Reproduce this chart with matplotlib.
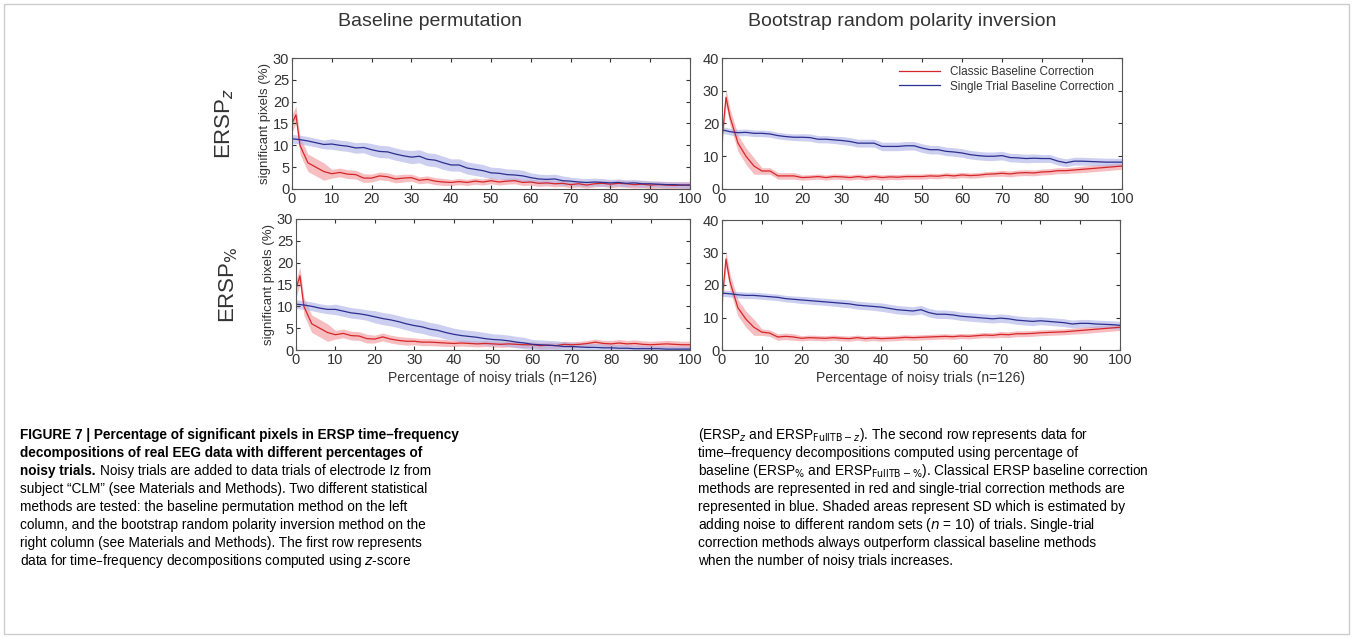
import numpy as np
import matplotlib.pyplot as plt
from matplotlib.patches import Rectangle

plt.rcParams['font.family'] = ['Liberation Sans', 'DejaVu Sans']

# x positions (percentage of noisy trials)
x = [0, 1] + list(range(2, 101, 2))

# baseline permutation, ERSP_z
bp_z_red = [15, 17, 10, 6, 5, 4, 3.5, 3.8, 3.4, 3.3, 2.5, 2.5, 3, 2.8, 2.3, 2.5, 2.6, 2, 2.2, 1.8, 1.6, 1.5,
            1.7, 1.5, 1.8, 1.6, 1.9, 1.6, 1.8, 1.9, 1.5, 1.6, 1.3, 1.4, 1.2, 1.3, 1.0, 1.2, 0.9, 1.2, 1.3, 1.1,
            1.3, 1.2, 1.0, 1.1, 0.9, 1.0, 0.9, 0.8, 0.9, 0.9]
bp_z_blue = [11.5, 11.4, 11.3, 11, 10.6, 10.2, 10.3, 10, 9.8, 9.4, 9.5, 9, 8.6, 8.5, 8.0, 7.6, 7.3, 7.5, 6.8, 6.6,
             6, 5.5, 5.5, 4.8, 4.5, 4.2, 3.7, 3.6, 3.3, 3.2, 3, 2.6, 2.3, 2.2, 2.3, 1.9, 1.8, 1.6, 1.5, 1.6, 1.5,
             1.4, 1.5, 1.3, 1.4, 1.2, 1.2, 1.1, 1.0, 1.0, 0.9, 0.9]
# baseline permutation, ERSP_%
bp_p_red = [14, 17, 10, 6, 5, 4, 3.5, 3.8, 3.3, 3.2, 2.6, 2.5, 3, 2.5, 2.2, 2.0, 2.0, 1.8, 1.8, 1.7, 1.6, 1.5,
            1.6, 1.5, 1.4, 1.5, 1.4, 1.3, 1.4, 1.3, 1.2, 1.2, 1.0, 1.1, 1.0, 1.3, 1.2, 1.3, 1.5, 1.8, 1.5, 1.4,
            1.6, 1.4, 1.5, 1.3, 1.2, 1.3, 1.4, 1.3, 1.2, 1.2]
bp_p_blue = [10.5, 10.4, 10.3, 10, 9.6, 9.3, 9.3, 8.9, 8.5, 8.3, 8.0, 7.6, 7.2, 6.9, 6.5, 6.0, 5.6, 5.3, 4.8, 4.5,
             4, 3.6, 3.3, 3.1, 2.9, 2.6, 2.4, 2.3, 2.1, 1.8, 1.6, 1.3, 1.2, 1.1, 1.0, 0.8, 0.8, 0.7, 0.6, 0.6, 0.5,
             0.5, 0.4, 0.4, 0.3, 0.3, 0.3, 0.3, 0.2, 0.2, 0.2, 0.2]
# bootstrap, ERSP_z
bs_z_red = [15, 28, 22, 14, 10, 7, 5.5, 5.5, 4, 4, 4, 3.5, 3.6, 3.8, 3.5, 3.8, 3.7, 3.5, 3.8, 3.5, 3.8, 3.5,
            3.7, 3.6, 3.8, 3.8, 3.8, 4, 3.9, 4.2, 4, 4.3, 4.1, 4.2, 4.5, 4.6, 4.8, 4.6, 4.9, 5, 4.9, 5.2, 5.3,
            5.6, 5.6, 5.8, 6, 6.2, 6.4, 6.6, 6.8, 7]
bs_z_blue = [18, 17.8, 17.5, 17.2, 17.3, 17, 17, 16.8, 16.3, 16, 15.8, 15.8, 15.7, 15.2, 15.2, 15, 14.8, 14.5, 14,
             14, 14, 13, 13, 13, 13.2, 13.2, 12.5, 12, 12, 11.5, 11.3, 11, 10.5, 10.2, 10, 10, 10.2, 9.6, 9.5,
             9.3, 9.4, 9.3, 9.3, 8.5, 8, 8.5, 8.5, 8.4, 8.3, 8.2, 8.2, 8.2]
# bootstrap, ERSP_%
bs_p_red = [15, 28, 21, 13, 9.5, 7, 5.5, 5.2, 4, 4.2, 4, 3.6, 3.8, 3.7, 3.6, 3.8, 3.6, 3.5, 3.8, 3.5, 3.7, 3.5,
            3.6, 3.7, 3.9, 3.8, 3.9, 4, 4.1, 4.2, 4.1, 4.3, 4.2, 4.4, 4.6, 4.5, 4.8, 4.7, 5, 5, 5.1, 5.3, 5.4,
            5.5, 5.6, 5.8, 6, 6.2, 6.4, 6.6, 6.8, 7]
bs_p_blue = [17.5, 17.4, 17.3, 17, 16.8, 16.8, 16.6, 16.4, 16.2, 15.8, 15.6, 15.4, 15.2, 15, 14.8, 14.6, 14.4,
             14.2, 13.8, 13.6, 13.4, 13.2, 12.8, 12.4, 12.2, 12, 12.4, 11.5, 11, 11, 10.8, 10.4, 10.2, 10, 9.8,
             9.6, 9.8, 9.6, 9.2, 9, 8.8, 9, 8.8, 8.6, 8.4, 8, 8.2, 8.2, 8.0, 7.9, 7.8, 7.6]

# SD per decade bin (0-10, 10-20, ..., 90-100, 100)
sd_red_bp = [2.0, 1.0, 0.9, 0.8, 0.7, 0.7, 0.7, 0.7, 0.8, 0.8, 0.8]
sd_blue_bp = [1.0, 1.2, 1.4, 1.5, 1.4, 1.3, 1.1, 0.9, 0.8, 0.7, 0.7]
sd_red_bs = [2.5, 1.0, 0.8, 0.8, 0.8, 0.8, 0.8, 0.9, 0.9, 1.0, 1.0]
sd_blue_bs = [1.0, 1.0, 1.1, 1.2, 1.3, 1.3, 1.3, 1.3, 1.2, 1.2, 1.2]

RED = '#d62728'
RED_F = '#f4a3a8'
BLUE = '#2b2f8f'
BLUE_F = '#aab0e6'

fig = plt.figure(figsize=(13.53, 6.38), dpi=100)
W, H = 1353, 638


def ax_px(l, t, r, b):
    return fig.add_axes([l / W, 1 - b / H, (r - l) / W, (b - t) / H])


def panel(ax, red, blue, sdr, sdb, ymax, ystep):
    xa = np.array(x)
    idx = np.minimum(xa // 10, 10).astype(int)
    r = np.array(red)
    b = np.array(blue)
    ax.fill_between(xa, r - np.array(sdr)[idx], r + np.array(sdr)[idx], color=RED_F, alpha=0.7, lw=0)
    ax.fill_between(xa, b - np.array(sdb)[idx], b + np.array(sdb)[idx], color=BLUE_F, alpha=0.6, lw=0)
    ax.plot(xa, r, color=RED, lw=0.9, label='Classic Baseline Correction')
    ax.plot(xa, b, color=BLUE, lw=0.9, label='Single Trial Baseline Correction')
    ax.set_xlim(0, 100)
    ax.set_ylim(0, ymax)
    ax.set_xticks(range(0, 101, 10))
    ax.set_yticks(np.arange(0, ymax + 0.1, ystep))
    ax.tick_params(direction='in', top=True, right=True, labelsize=10.5, colors='#333333', length=3, pad=2)
    for s in ax.spines.values():
        s.set_color('#555555')
        s.set_linewidth(0.8)


a1 = ax_px(292, 58, 690, 189)
panel(a1, bp_z_red, bp_z_blue, sd_red_bp, sd_blue_bp, 30, 5)
a2 = ax_px(296, 219, 690, 350)
panel(a2, bp_p_red, bp_p_blue, sd_red_bp, sd_blue_bp, 30, 5)
a3 = ax_px(722, 58, 1122, 189)
panel(a3, bs_z_red, bs_z_blue, sd_red_bs, sd_blue_bs, 40, 10)
a4 = ax_px(722, 220, 1120, 350)
panel(a4, bs_p_red, bs_p_blue, sd_red_bs, sd_blue_bs, 40, 10)

a3.legend(loc='upper right', frameon=False, fontsize=8.5, handlelength=3.5, borderaxespad=0.3,
          labelspacing=0.2, labelcolor='#333333')

for a, lab in [(a1, r'ERSP$_z$'), (a2, r'ERSP$_{\%}$')]:
    a.set_ylabel('significant pixels (%)', fontsize=9.5, color='#333333', labelpad=1)
    a.text(-0.17, 0.5, lab, transform=a.transAxes, rotation=90, fontsize=16, color='#333333',
           ha='center', va='center')

for a in (a2, a4):
    a.set_xlabel('Percentage of noisy trials (n=126)', fontsize=10, color='#333333', labelpad=3)

fig.text(430 / W, 1 - 22 / H, 'Baseline permutation', fontsize=14, ha='center', va='center', color='#333333')
fig.text(902 / W, 1 - 22 / H, 'Bootstrap random polarity inversion', fontsize=14, ha='center', va='center',
         color='#333333')

# caption
fs = 9.8
dy = 18
y0 = 435
left = [
    (True, 'FIGURE 7 | Percentage of significant pixels in ERSP time–frequency'),
    (True, 'decompositions of real EEG data with different percentages of'),
    (None, ''),
    (False, 'subject “CLM” (see Materials and Methods). Two different statistical'),
    (False, 'methods are tested: the baseline permutation method on the left'),
    (False, 'column, and the bootstrap random polarity inversion method on the'),
    (False, 'right column (see Materials and Methods). The first row represents'),
    (False, 'data for time–frequency decompositions computed using $z$-score'),
]
for i, (bold, s) in enumerate(left):
    y = 1 - (y0 + i * dy) / H
    if bold is None:
        fig.text(20 / W, y, 'noisy trials.', fontsize=fs, weight='bold', va='center')
        fig.text(100 / W, y, 'Noisy trials are added to data trials of electrode Iz from',
                 fontsize=fs, va='center')
    else:
        fig.text(20 / W, y, s, fontsize=fs, weight='bold' if bold else 'normal', va='center')

right = [
    r'(ERSP$_z$ and ERSP$_{\mathrm{Full TB}-z}$). The second row represents data for',
    'time–frequency decompositions computed using percentage of',
    r'baseline (ERSP$_{\%}$ and ERSP$_{\mathrm{Full TB}-\%}$). Classical ERSP baseline correction',
    'methods are represented in red and single-trial correction methods are',
    'represented in blue. Shaded areas represent SD which is estimated by',
    r'adding noise to different random sets ($n$ = 10) of trials. Single-trial',
    'correction methods always outperform classical baseline methods',
    'when the number of noisy trials increases.',
]
for i, s in enumerate(right):
    fig.text(698 / W, 1 - (y0 + i * dy) / H, s, fontsize=fs, va='center')

fig.patches.append(Rectangle((4 / W, 4 / H), 1 - 8 / W, 1 - 8 / H, transform=fig.transFigure,
                             fill=False, ec='#cccccc', lw=1))

fig.savefig('out.png', dpi=100)
